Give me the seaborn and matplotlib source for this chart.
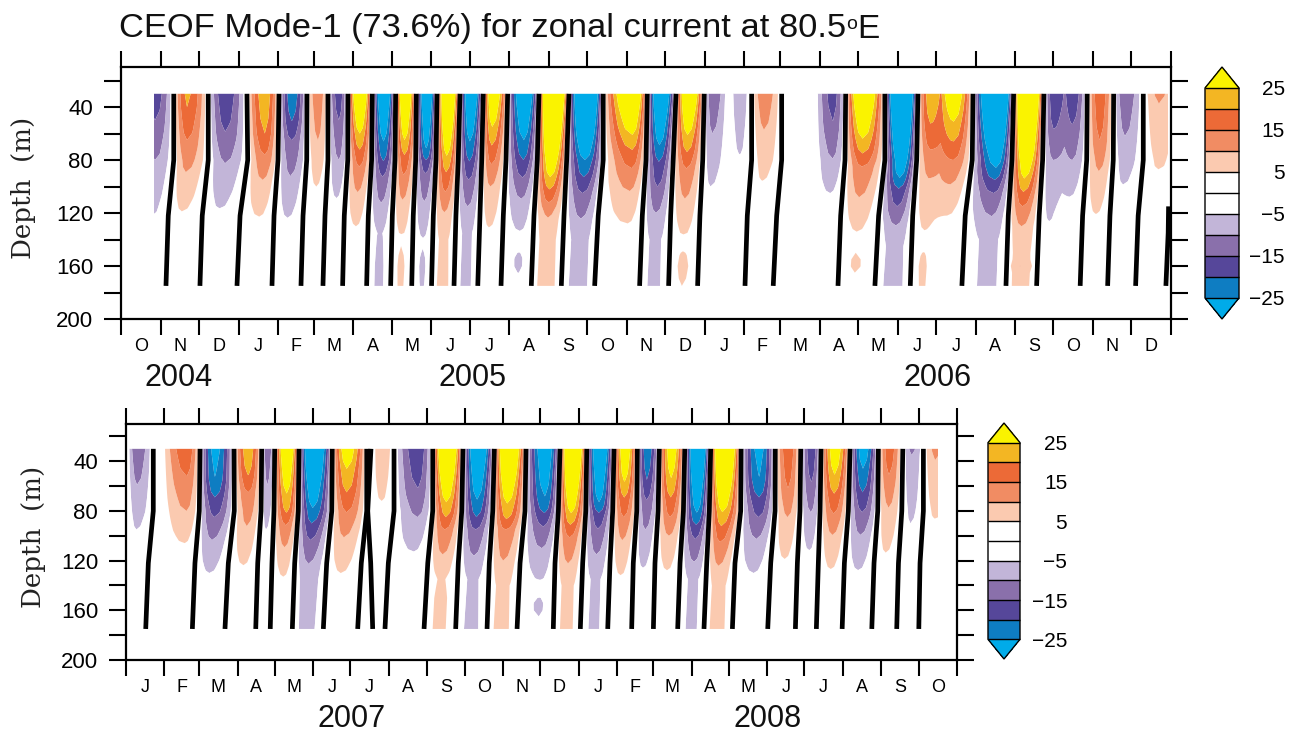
import numpy as np
import pandas as pd
import seaborn as sns
import matplotlib
matplotlib.use("Agg")
import matplotlib.pyplot as plt
from matplotlib.patches import Rectangle

sns.set_theme(style="ticks", rc={"text.color": "black", "xtick.color": "black", "ytick.color": "black"})
plt.rcParams['font.family'] = ['Liberation Sans', 'DejaVu Sans']

W, H = 1301, 734

# colour bands, low to high
band_colors = ['#00ABE9', '#0E7DC2', '#56479A', '#8A70AB', '#C2B5D8', '#FFFFFF',
               '#FFFFFF', '#FBCAB0', '#F18C63', '#EC6A37', '#F3B623', '#FAF300']
levels = [-25, -20, -15, -10, -5, 0, 5, 10, 15, 20, 25]
cbar_ticks = [-25, -15, -5, 5, 15, 25]
cbar_labels = ['\u221225', '\u221215', '\u22125', '5', '15', '25']
band_levels = [25, 20, 15, 10, 5]

depth_grid = np.arange(30, 176, 5)
line_depths = [30, 80, 122, 175]

# across-lobe section, edge to centre
shape_pos = [0, 0.25, 0.5, 0.75]
shape_weight = [0, 0.42, 0.72, 0.93]

# ---- 2004-2006 panel. x is days since the first of the panel ----
top_months = list("ONDJFMAMJJASONDJFMAMJJASOND")
top_dates = pd.date_range("2004-10-01", "2007-01-01", freq="MS")

# black lines, x at depths 30, 80, 122, 175
top_lines = [
    [41.3, 41.3, 37.0, 35.2], [68.3, 68.3, 63.6, 61.8], [98.6, 99.2, 93.2, 90.8],
    [123.7, 122.9, 119.8, 118.2], [145.6, 145.4, 142.5, 140.9], [162.0, 162.0, 159.7, 158.1],
    [177.7, 177.5, 174.8, 173.5], [196.7, 196.2, 193.6, 192.3], [215.0, 214.5, 212.4, 211.1],
    [231.2, 230.7, 228.8, 227.6], [247.4, 246.6, 244.5, 243.1], [265.4, 264.0, 262.2, 260.7],
    [283.6, 282.4, 281.0, 279.3], [302.7, 301.4, 299.3, 297.5], [327.2, 325.9, 323.3, 321.2],
    [350.7, 348.9, 346.8, 344.7], [377.5, 377.5, 373.6, 370.8], [412.0, 411.0, 408.1, 406.0],
    [434.5, 432.3, 430.3, 428.7], [456.6, 455.4, 453.2, 451.4], [493.7, 493.7, 490.3, 488.5],
    [517.2, 517.2, 513.3, 510.6], [567.3, 566.8, 563.4, 561.3], [598.0, 598.0, 593.1, 590.2],
    [623.9, 622.9, 619.8, 617.9], [667.0, 666.4, 660.9, 658.3], [698.8, 697.5, 694.6, 692.8],
    [722.5, 721.5, 718.8, 716.8], [756.4, 756.0, 752.8, 750.9], [777.1, 776.8, 774.2, 772.4],
    [800.3, 800.3, 796.3, 794.3],
]
top_last_line_day = [820.1, 819.8, 818.0]
top_last_line_depth = [115, 135, 175]

# lobe limits with no black line on them
top_free_edges = [
    [14.9, 14.9, 14.9, 14.9], [475.5, 475.0, 473.0, 471.0], [543.0, 543.0, 540.0, 538.0],
    [642.0, 641.5, 637.0, 635.0], [739.0, 738.5, 735.5, 733.5], [830.0, 830.0, 830.0, 830.0],
]

top_centers = [26.6, 51.7, 81.4, 112.7, 133.9, 154.2, 170.6, 187.1, 205.9, 222.3, 239.5, 256.0,
               274.0, 291.2, 316.3, 338.2, 364.0, 400.8, 422.7, 444.6, 463.4, 484.6, 503.3, 530.0,
               557.4, 580.8, 611.4, 634.0, 652.1, 686.5, 709.2, 730.4, 745.2, 766.4, 786.0, 812.5]

# surface value, then depth where the lobe centre falls through 25, 20, 15, 10, 5 (0: does not)
top_lobes = [
    [-18, 0, 0, 50, 80, 122], [21, 0, 40, 65, 89, 119], [-19, 0, 0, 59, 82, 117],
    [24, 0, 60, 76, 95, 123], [-24, 0, 51, 65, 92, 124], [14, 0, 0, 0, 65, 100],
    [-18, 0, 0, 50, 80, 109], [38, 60, 72, 85, 104, 130], [-36, 66, 81, 92, 112, 0],
    [38, 65, 76, 91, 110, 137], [-36, 72, 80, 90, 111, 139], [42, 77, 89, 104, 119, 0],
    [-36, 66, 81, 95, 115, 0], [34, 55, 69, 83, 100, 131], [-36, 65, 80, 93, 109, 134],
    [55, 93, 102, 112, 122, 0], [-50, 80, 93, 105, 124, 0], [38, 61, 72, 86, 103, 128],
    [-38, 69, 81, 100, 120, 0], [38, 61, 74, 86, 109, 137], [-14, 0, 0, 0, 60, 100],
    [-8, 0, 0, 0, 0, 77], [14, 0, 0, 0, 57, 96], [0, 0, 0, 0, 0, 0],
    [-17, 0, 0, 51, 79, 105], [38, 64, 75, 85, 108, 134], [-50, 94, 101, 115, 129, 0],
    [24, 0, 53, 72, 93, 134], [32, 51, 66, 80, 98, 122], [-50, 86, 95, 105, 122, 0],
    [55, 94, 104, 115, 130, 0], [-19, 0, 0, 57, 80, 127], [-19, 0, 0, 53, 80, 108],
    [19, 0, 0, 65, 88, 121], [-14, 0, 0, 0, 62, 99], [11, 0, 0, 0, 37, 88],
]
# what happens below the last contour: (depth, size)
top_tails = {
    8: [(135, 5.3), (160, 6), (175, 6)], 9: [(139, 3), (145, 5), (160, 5.8), (175, 5.5)],
    10: [(141, 4.6), (150, 5.2), (160, 5.7), (175, 5.3)], 11: [(140, 6.3), (175, 7)],
    12: [(135, 6.3), (175, 6.5)], 14: [(143, 2), (148, 5), (157, 5.6), (166, 5), (170, 2)],
    15: [(140, 7.5), (175, 8)], 16: [(140, 7.2), (175, 7.6)], 18: [(140, 6.3), (175, 6.5)],
    19: [(142, 3), (147, 5), (160, 6), (172, 5.2), (175, 5)],
    25: [(145, 3), (150, 5), (158, 5.6), (165, 5), (170, 2)],
    26: [(145, 7), (175, 7.5)], 27: [(143, 2), (148, 5), (160, 6), (175, 5.6)],
    29: [(140, 6.5), (175, 6.5)], 30: [(150, 7.8), (155, 8), (160, 10.1), (165, 8), (175, 7.8)],
}
# ridge between two peaks, on a free edge
top_saddles = {642.0: [19, 0, 0, 68, 90, 125], 739.0: [-14, 0, 0, 0, 70, 105]}
top_data_span = (25.8, 820.0)

# ---- 2007-2008 panel ----
bottom_months = list("JFMAMJJASONDJFMAMJJASO")
bottom_dates = pd.date_range("2007-01-01", "2008-11-01", freq="MS")

bottom_lines = [
    [22.0, 22.0, 18.0, 15.9], [59.7, 59.1, 55.6, 53.5], [87.1, 87.3, 82.5, 79.8],
    [109.4, 108.9, 106.2, 104.6], [119.9, 119.3, 117.7, 116.3], [139.5, 138.9, 136.0, 134.1],
    [166.3, 165.9, 161.8, 159.1], [194.1, 194.1, 189.7, 186.8], [197.5, 194.9, 197.3, 198.9],
    [216.1, 216.1, 211.5, 208.8], [247.3, 247.3, 243.3, 240.3], [271.7, 270.7, 267.9, 265.8],
    [297.0, 295.7, 292.9, 291.1], [322.5, 321.7, 317.7, 315.3], [349.9, 348.6, 345.9, 344.5],
    [371.5, 370.7, 368.2, 366.3], [393.5, 392.4, 390.2, 388.4], [412.3, 411.8, 409.0, 407.7],
    [430.0, 429.0, 426.5, 425.2], [450.5, 449.4, 446.7, 444.8], [471.4, 470.3, 468.2, 466.0],
    [495.9, 495.6, 491.0, 488.9], [523.5, 523.3, 519.8, 517.4], [544.0, 543.4, 541.3, 539.7],
    [560.4, 559.6, 558.2, 556.6], [583.8, 582.4, 579.2, 577.4], [606.6, 606.1, 603.1, 601.3],
    [626.3, 625.5, 622.8, 621.4], [642.9, 642.9, 640.2, 639.2],
]
bottom_free_edges = [[1.0, 1.0, 1.0, 1.0], [28.2, 28.2, 28.2, 28.2], [672.0, 672.0, 672.0, 672.0]]

bottom_centers = [8.9, 25.0, 49.2, 71.8, 98.6, 114.2, 130.0, 151.0, 178.0, 196.0, 207.2, 235.4,
                  258.6, 284.0, 308.3, 338.6, 360.0, 382.2, 402.3, 420.3, 440.0, 461.4, 481.6,
                  510.6, 534.0, 552.9, 571.7, 594.5, 615.4, 633.5, 652.3]

bottom_lobes = [
    [-14, 0, 0, 0, 59, 95], [0, 0, 0, 0, 0, 0], [19, 0, 0, 52, 80, 106],
    [-27, 54, 69, 85, 103, 130], [24, 0, 52, 65, 92, 124], [-14, 0, 0, 0, 59, 95],
    [36, 66, 82, 91, 109, 133], [-40, 78, 90, 103, 122, 0], [30, 46, 65, 81, 101, 130],
    [0, 0, 0, 0, 0, 0], [9, 0, 0, 0, 0, 73], [-19, 0, 0, 62, 85, 113],
    [42, 73, 85, 95, 115, 0], [-36, 71, 85, 95, 116, 0], [42, 74, 87, 95, 120, 0],
    [-32, 69, 82, 92, 110, 136], [46, 82, 91, 101, 122, 0], [-36, 74, 81, 94, 115, 0],
    [32, 57, 69, 85, 103, 132], [-24, 0, 55, 71, 95, 126], [30, 54, 69, 85, 100, 128],
    [-40, 82, 91, 102, 121, 0], [46, 81, 92, 105, 124, 0], [-27, 54, 69, 85, 102, 130],
    [19, 0, 0, 62, 85, 119], [-19, 0, 0, 57, 81, 112], [30, 51, 66, 82, 99, 127],
    [-29, 46, 65, 81, 99, 128], [18, 0, 0, 51, 77, 114], [-11, 0, 0, 0, 35, 90],
    [11, 0, 0, 0, 39, 87],
]
bottom_tails = {
    7: [(135, 8), (175, 7)], 12: [(135, 5.4), (150, 6.3), (175, 6.3)],
    13: [(135, 6), (175, 6.6)], 14: [(140, 6.5), (175, 7)],
    15: [(143, 2), (148, 5), (157, 5.6), (165, 5), (170, 2)], 16: [(140, 6.5), (175, 6.7)],
    17: [(135, 6), (175, 6.2)], 21: [(135, 6.2), (175, 6.4)], 22: [(140, 6.8), (175, 7.2)],
}
bottom_saddles = {}
bottom_data_span = (0.0, 654.4)


def lobe_profile(row, tail):
    if row[0] == 0:
        return np.zeros(len(depth_grid))
    depths = [30]
    sizes = [abs(row[0])]
    for d, lev in zip(row[1:], band_levels):
        if d:
            depths.append(d)
            sizes.append(lev)
    if tail:
        for d, s in tail:
            depths.append(d)
            sizes.append(s)
    else:
        depths.append(depths[-1] + 22)
        sizes.append(0)
    return np.sign(row[0]) * np.interp(depth_grid, depths, sizes)


def build_field(lines, free_edges, centers, lobes, tails, saddles):
    edges = sorted(lines + free_edges, key=lambda e: e[0])
    xs = []
    zs = []
    for i in range(len(lobes)):
        left = np.interp(depth_grid, line_depths, edges[i])
        right = np.interp(depth_grid, line_depths, edges[i + 1])
        frac = (centers[i] - edges[i][0]) / (edges[i + 1][0] - edges[i][0])
        mid = left + frac * (right - left)
        amp = lobe_profile(lobes[i], tails.get(i))
        zero = np.zeros(len(depth_grid))
        z_l = lobe_profile(saddles[edges[i][0]], None) if edges[i][0] in saddles else zero
        z_r = lobe_profile(saddles[edges[i + 1][0]], None) if edges[i + 1][0] in saddles else zero
        for p, w in zip(shape_pos, shape_weight):
            xs.append(left + p * (mid - left))
            zs.append(z_l * (1 - w) + amp * w)
        xs.append(mid)
        zs.append(amp)
        for p, w in zip(shape_pos[::-1][:-1], shape_weight[::-1][:-1]):
            xs.append(right + p * (mid - right))
            zs.append(z_r * (1 - w) + amp * w)
    xs.append(np.interp(depth_grid, line_depths, edges[-1]))
    zs.append(np.zeros(len(depth_grid)))
    return np.array(xs).T, np.array(zs).T


def line_frame(lines, depths=line_depths, start=0):
    rows = []
    for n, days in enumerate(lines):
        for day, dep in zip(days, depths):
            rows.append({"line": start + n, "day": day, "depth": dep})
    return pd.DataFrame(rows)


def px_axes(fig, x0, y0, x1, y1):
    return fig.add_axes([x0 / W, 1 - y1 / H, (x1 - x0) / W, (y1 - y0) / H])


def draw_panel(fig, box, cbox, dates, months, field, span, lines_df, years, lab, cb_pad):
    ax = px_axes(fig, *box)
    X, Z = field
    Y = np.tile(depth_grid, (X.shape[1], 1)).T
    cf = ax.contourf(X, Y, Z, levels=levels, colors=sns.color_palette(band_colors),
                     extend='both', antialiased=True)
    cf.set_clip_path(Rectangle((span[0], 0), span[1] - span[0], 300, transform=ax.transData))
    sns.lineplot(data=lines_df, x="day", y="depth", units="line", estimator=None, sort=False,
                 color="black", linewidth=3.4, legend=False, solid_capstyle="butt", ax=ax)

    days = (dates - dates[0]).days.values
    ax.set_xlim(0, days[-1])
    ax.set_ylim(200, 10)
    ax.set_xlabel("")
    ax.set_ylabel("")
    ax.set_xticks(days)
    ax.set_xticklabels([])
    ax.set_xticks((days[:-1] + days[1:]) / 2, minor=True)
    ax.set_xticklabels(months, minor=True, fontsize=13)
    ax.set_yticks(np.arange(20, 201, 20))
    ax.set_yticklabels(['' if v % 40 else str(v) for v in range(20, 201, 20)], fontsize=16)
    ax.tick_params(axis='x', which='major', direction='out', length=11.5, width=1.5,
                   top=True, bottom=True)
    ax.tick_params(axis='x', which='minor', length=0, pad=14)
    ax.tick_params(axis='y', direction='out', length=12, width=1.5, left=True, right=True, pad=8)
    for s in ax.spines.values():
        s.set_visible(True)
        s.set_linewidth(1.6)
        s.set_color('black')

    cax = px_axes(fig, *cbox)
    cb = fig.colorbar(cf, cax=cax, ticks=cbar_ticks, drawedges=True, extendfrac=0.1)
    cb.set_ticklabels(cbar_labels)
    cb.outline.set_linewidth(1.0)
    cb.outline.set_edgecolor('black')
    cb.dividers.set_linewidth(1.0)
    cb.dividers.set_color('black')
    cax.tick_params(length=0, pad=cb_pad, labelsize=15)
    for t in cax.get_yticklabels():
        t.set_ha('right')

    for label, x, y in years:
        fig.text(x / W, 1 - y / H, label, fontsize=22, ha='center', va='center', color='#111111')
    fig.text(lab[0] / W, 1 - lab[1] / H, "Depth  (m)", fontsize=18.8, rotation=90,
             family='DejaVu Serif', ha='center', va='center', color='#222222')


fig = plt.figure(figsize=(W / 100, H / 100), dpi=100)

top_frame = pd.concat([line_frame(top_lines),
                       line_frame([top_last_line_day], top_last_line_depth, 100)])
draw_panel(fig, (121, 67.3, 1171, 319), (1205, 67, 1239, 319), top_dates, top_months,
           build_field(top_lines, top_free_edges, top_centers, top_lobes, top_tails, top_saddles),
           top_data_span, top_frame,
           [("2004", 179, 378), ("2005", 472, 378), ("2006", 938, 378)], (23, 188), 33)

draw_panel(fig, (126, 424, 957, 660), (988, 423, 1020, 659), bottom_dates, bottom_months,
           build_field(bottom_lines, bottom_free_edges, bottom_centers, bottom_lobes,
                       bottom_tails, bottom_saddles),
           bottom_data_span, line_frame(bottom_lines),
           [("2007", 352, 719), ("2008", 768, 719)], (33, 537), 34)

# title in three pieces so the small raised "o" sits like the original
title = fig.text(119 / W, 1 - 37.5 / H, "CEOF Mode-1 (73.6%) for zonal current at 80.5",
                 fontsize=24, ha='left', va='baseline', color='#111111')
title_w = title.get_window_extent(fig.canvas.get_renderer()).width
title.set_fontsize(24 * 726 / title_w)
fig.text(846.5 / W, 1 - 29 / H, "o", fontsize=14, ha='left', va='baseline', color='#111111')
fig.text(857.5 / W, 1 - 37.5 / H, "E", fontsize=24, ha='left', va='baseline', color='#111111')

fig.savefig("out.png", dpi=100)
